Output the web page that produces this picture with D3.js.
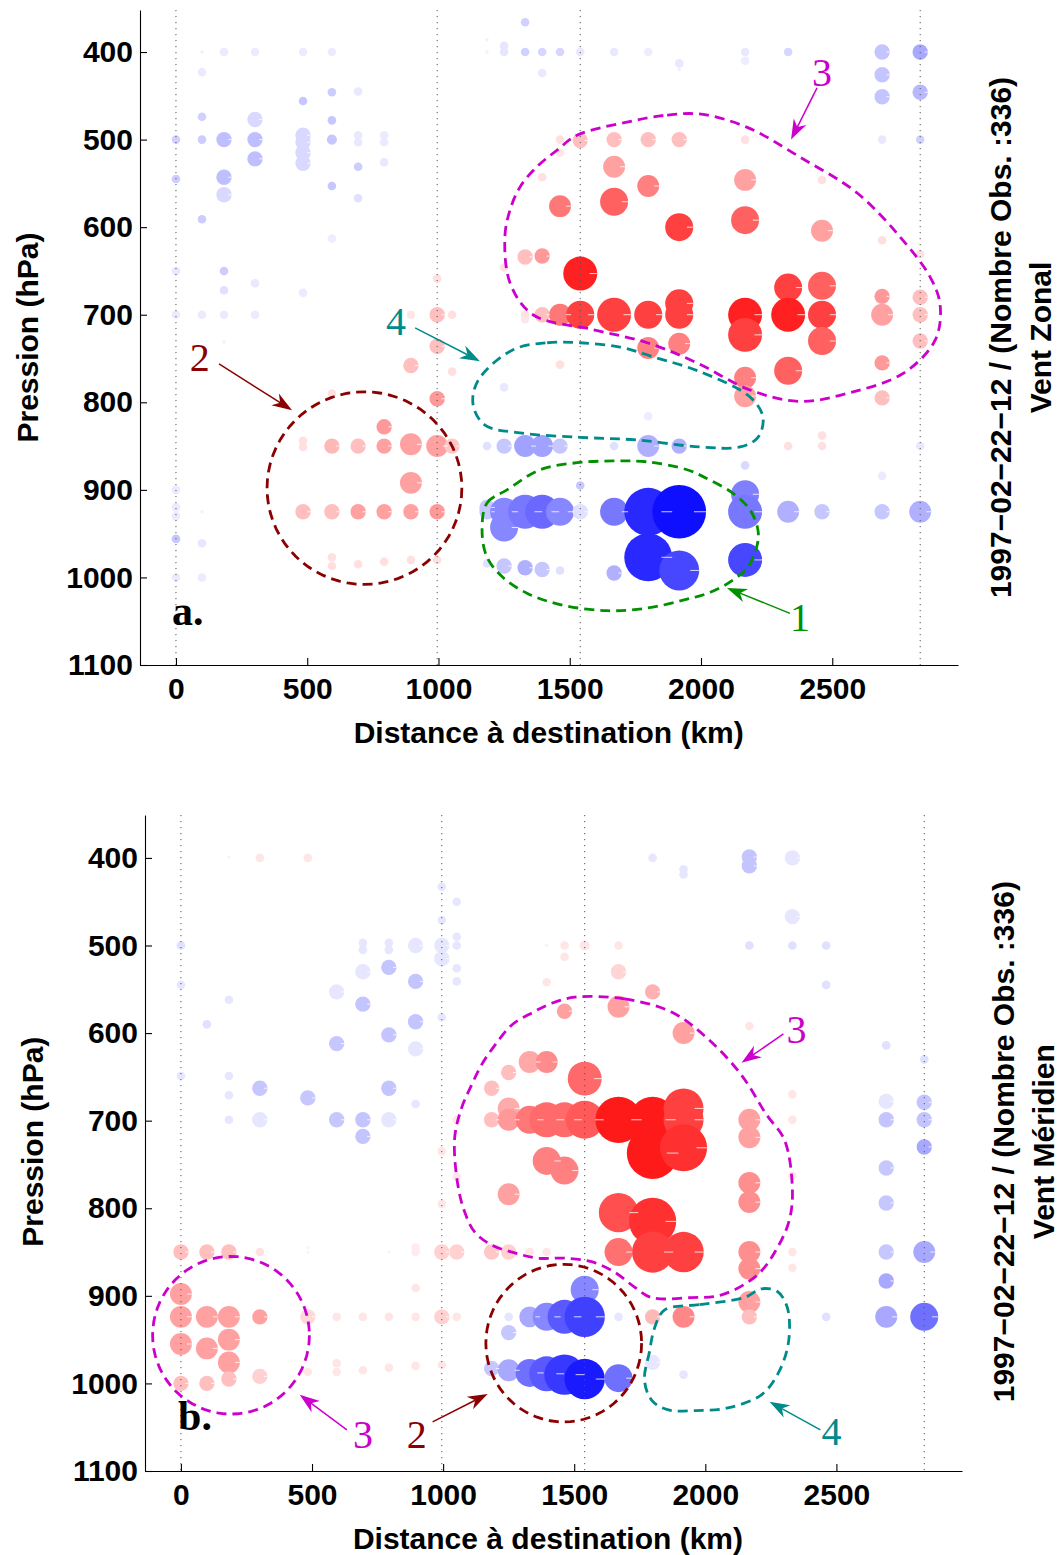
<!DOCTYPE html>
<html><head><meta charset="utf-8">
<script src="https://cdn.jsdelivr.net/npm/d3@7"></script>
<style>body{margin:0;background:#fff}</style>
</head><body>
<svg id="c" width="1059" height="1555"></svg>
<script>
// ---------- DATA ----------
const xTicks = [0, 500, 1000, 1500, 2000, 2500];
const yTicks = [400, 500, 600, 700, 800, 900, 1000, 1100];
const refLines = [0, 995, 1540, 2835];          // km, dotted verticals
const dateLabel = "1997\u221202\u221222\u221212 / (Nombre Obs. :336)";
const titleA = "Vent Zonal";
const titleB = "Vent M\u00e9ridien";
const xTitle = "Distance \u00e0 destination (km)";
const yTitle = "Pression (hPa)";

// [distance km, pressure hPa, anomaly m/s (+ red / − blue), weight]
const zonalPoints = [
 [99,400,-0.6,0.15],[183,400,-0.8,1],[301,400,-0.8,1],[484,400,-0.8,1],[594,400,-0.8,1],
 [99,423,-0.8,1],[594,446,-2.0,1],[694,445,-0.9,1],[484,456,-2.2,1],[99,474,-1.8,1],
 [301,477,-1.5,3.2],[594,478,-2.2,1],[0,500,-1.8,1],[99,500,-2.0,1],[183,500,-2.5,3.2],
 [301,500,-2.5,3.2],[484,495,-1.5,3.2],[484,503,-1.5,3.2],[484,515,-1.5,3.2],[484,527,-1.5,3.2],
 [594,500,-2.2,1.4],[694,495,-0.9,1],[694,503,-0.9,1],[793,495,-0.8,1],[793,503,-0.8,1],
 [301,522,-2.5,3.2],[694,531,-2.0,1],[793,526,-0.9,1],[0,545,-2.0,1],[183,543,-2.5,3.2],
 [183,563,-1.5,3.2],[594,553,-2.2,1],[694,567,-1.2,1],[99,591,-2.0,1],[594,613,-0.7,1],
 [0,650,-0.9,1],[183,650,-2.0,1],[183,672,-1.2,1],[301,664,-0.9,1],[484,675,-0.8,1],
 [0,700,-0.8,1],[99,700,-0.8,1],[183,700,-0.8,1],[301,700,-0.8,1],
 [895,700,1.0,1],[995,700,2.5,3.2],[1052,700,1.2,1],
 [1330,366,-1.8,1],[1185,386,-0.6,0.15],[1185,400,-0.6,0.15],[1250,393,-1.0,1],[1250,400,-1.0,1],
 [1330,400,-1.8,1],[1395,400,-1.6,1],[1463,400,-1.6,1],[1540,400,-0.9,1],[1669,400,-0.9,1],
 [1799,400,-0.7,1],[1917,413,-0.9,1],[1917,420,-0.6,0.15],[1395,424,-0.9,1],
 [2168,400,-0.9,1],[2168,410,-0.7,1],[2332,400,-1.6,1],[2690,400,-2.3,3.2],[2835,400,-3.4,3.2],
 [2690,426,-2.3,3.2],[2690,451,-2.3,3.2],[2835,446,-2.8,3.2],[2690,500,-0.9,1],[2835,500,-1.8,1],
 [1463,500,1.2,1],[1463,515,1.0,1],[1540,501,2.5,3.2],[1669,500,2.5,3.2],[1799,500,2.5,3.2],
 [1917,500,2.5,3.2],[2168,500,1.2,1],[1395,543,1.2,1],[1669,531,3.7,6.5],[1799,553,5.0,6.5],
 [1463,576,5.3,6.5],[1669,571,6.2,10.6],[1917,600,7.5,10.6],[2461,546,1.2,1],[2168,546,3.7,6.5],
 [2168,592,6.2,10.6],[2461,604,3.7,6.5],[2690,615,1.2,1],[2835,631,1.2,1],[1330,634,2.5,3.2],
 [1395,633,4.0,3.2],[1250,646,1.2,1],[1540,653,8.7,15.6],[995,659,1.2,1],
 [1330,700,1.2,1],[1330,705,1.0,1],[1395,700,2.5,3.2],[1463,700,5.3,6.5],[1540,700,7.5,10.6],
 [1669,700,7.5,15.6],[1799,700,7.5,10.6],[1917,687,7.5,10.6],[1917,700,7.5,10.6],
 [2168,700,8.7,15.6],[2332,700,8.7,15.6],[2461,700,7.5,10.6],[2690,700,3.7,6.5],[2835,700,2.5,3.2],
 [2332,669,7.5,10.6],[2461,667,6.2,10.6],[2690,679,4.0,3.2],[2835,680,2.5,3.2],
 [2168,723,7.5,15.6],[2461,730,6.2,10.6],[2835,730,2.5,3.2],[1799,738,5.0,6.5],[1917,733,5.0,6.5],
 [995,736,2.5,3.2],[1052,765,1.2,1],[1463,757,1.2,1],[2690,755,4.0,3.2],[2168,772,5.0,6.5],
 [2332,764,6.2,10.6],[2168,793,3.7,6.5],[2690,795,2.5,3.2],[2461,838,1.2,1],[2332,850,1.2,1],
 [2461,850,1.2,1],[2835,850,-0.9,1],[2168,872,-1.5,1],[2690,884,-0.8,1],
 [1250,783,-0.9,1],[1799,816,-0.7,1],[1185,850,-1.2,1],[1250,850,-2.2,3.2],[1330,850,-3.7,6.5],
 [1395,850,-3.7,6.5],[1463,850,-2.2,3.2],[1669,850,-1.2,1],[1799,850,-3.1,6.5],[1917,850,-3.1,3.2],
 [1540,895,-2.2,1],[1185,920,-2.2,3.2],[1185,925,-2.2,3.2],[1250,925,-4.7,10.6],[1250,943,-4.7,10.6],
 [1330,925,-5.3,15.6],[1395,925,-5.9,15.6],[1463,925,-4.7,10.6],[1540,925,-1.2,3.2],
 [1669,925,-5.3,10.6],[1799,925,-8.4,31],[1917,925,-9.4,39],[2168,905,-5.0,10.6],
 [2168,925,-5.3,15.6],[2332,925,-3.1,6.5],[2461,925,-2.2,3.2],[2690,925,-2.2,3.2],[2835,925,-3.1,6.5],
 [1799,977,-8.4,31],[1917,992,-7.2,21.6],[2168,980,-7.2,15.6],[1185,984,-1.2,1],[1250,987,-2.2,3.2],
 [1330,989,-3.1,3.2],[1395,991,-2.2,3.2],[1463,992,-1.2,1],[1669,995,-3.1,3.2],
 [895,758,2.5,3.2],[594,790,1.2,1],[793,828,4.0,3.2],[484,844,1.2,1],[484,851,1.2,1],
 [594,850,2.8,3.2],[694,850,2.5,3.2],[793,850,3.7,3.2],[895,848,3.7,6.5],[995,850,3.7,6.5],
 [1052,850,2.2,3.2],[895,892,3.7,6.5],[484,925,2.5,3.2],[594,925,2.5,3.2],[694,925,3.7,3.2],
 [793,925,3.7,3.2],[895,925,3.7,3.2],[995,925,4.0,3.2],[995,796,4.0,3.2],
 [594,977,1.2,1],[594,987,1.2,1],[694,985,1.2,1],[793,982,1.2,1],[895,980,1.2,1],[995,980,1.2,1],
 [0,900,-0.8,1],[0,920,-0.8,1],[0,930,-0.8,1],[99,925,-0.6,0.15],[0,956,-2.2,1],[99,961,-1.0,1],
 [0,1000,-0.8,1],[99,1000,-0.8,1],[183,731,-0.6,0.15]
];

const meridPoints = [
 [183,399,0.6,0.15],[301,400,1.0,1],[484,400,1.0,1],
 [0,500,-1.2,1],[0,545,-1.0,1],[99,590,-1.2,1],[183,562,-1.0,1],[0,649,-1.0,1],[183,649,-1.0,1],
 [183,671,-1.0,1],[301,663,-2.2,3.2],[484,674,-2.2,3.2],[183,699,-1.0,1],[301,699,-1.0,3.2],
 [594,553,-1.0,3.2],[594,612,-2.2,3.2],[594,699,-2.2,3.2],[694,497,-1.0,1],[694,505,-1.0,1],
 [694,530,-1.0,3.2],[694,567,-2.3,3.2],[694,699,-2.3,3.2],[694,718,-2.3,3.2],[793,497,-1.0,1],
 [793,505,-1.0,1],[793,525,-2.3,3.2],[793,602,-2.3,3.2],[793,663,-2.3,3.2],[793,699,-1.0,3.2],
 [895,500,-1.0,3.2],[895,541,-2.3,3.2],[895,587,-2.3,3.2],[895,618,-1.0,3.2],[895,681,-1.0,1],
 [995,433,-1.0,1],[1052,450,-1.0,1],[995,471,-1.0,1],[1052,490,-1.0,1],[995,500,-1.0,3.2],
 [1052,500,-1.0,1],[995,515,-1.0,3.2],[1052,526,-1.0,1],[1052,541,-1.0,1],[995,582,-1.0,1],
 [1799,400,-1.0,1],[1917,413,-1.0,1],[1917,419,-1.0,1],[2168,399,-2.3,3.2],[2168,409,-2.3,3.2],
 [2332,400,-1.0,3.2],[2332,467,-1.0,3.2],[2168,500,-1.2,1],[2332,500,-1.2,1],[2461,500,-1.2,1],
 [2461,545,-1.2,1],[2690,614,-1.2,1],[2835,630,-1.2,1],[2690,678,-1.0,3.2],[2835,679,-2.3,3.2],
 [2690,699,-2.3,3.2],[2835,699,-2.3,3.2],[2835,730,-3.4,3.2],[2690,754,-2.2,3.2],[2690,794,-2.2,3.2],
 [2690,850,-2.2,3.2],[2835,850,-3.4,6.5],[2690,883,-3.4,3.2],[2461,924,-1.2,1],[2690,924,-3.4,6.5],
 [2835,924,-5.6,10.6],
 [1395,500,0.6,0.15],[1463,500,1.0,1],[1540,500,1.0,1.4],[1669,500,1.0,1],[1463,513,1.0,1],
 [1669,530,1.7,3.2],[1395,542,1.0,1],[1799,553,3.1,3.2],[1463,575,3.7,3.2],[1669,570,3.7,6.5],
 [1917,600,3.7,6.5],[2168,592,1.0,1],[1330,633,3.4,6.5],[1395,633,4.5,6.5],[1250,645,2.5,3.2],
 [1185,663,2.5,3.2],[1540,652,5.9,15.6],[2332,670,1.0,1],[1052,699,1.0,1],[1185,699,2.5,3.2],
 [1250,686,3.3,6.5],[1250,699,4.0,6.5],[1330,699,5.3,10.6],[1395,699,5.8,16.5],[1463,699,5.8,16.5],
 [1540,699,6.5,19.5],[1669,699,9.0,29],[1799,699,9.0,29],[1917,686,7.5,21.6],[1917,699,7.5,21.6],
 [2168,699,3.7,6.5],[2332,699,1.0,1],[2168,719,3.7,6.5],[1799,737,9.0,36],[1917,731,8.1,30],
 [995,735,1.0,1],[1052,764,1.0,1],[995,795,1.0,1],[1395,746,5.0,10.6],[1463,757,5.0,10.6],
 [1250,784,3.7,6.5],[1669,805,6.9,21],[1799,815,8.1,30],[2168,771,4.4,6.5],[2168,793,4.4,6.5],
 [2332,763,1.0,1],[1669,850,5.6,10.6],[1799,850,7.5,23],[1917,850,7.5,22],[2168,850,4.4,6.5],
 [2168,869,4.4,6.5],[2332,850,1.0,1],[2332,868,1.0,1],[995,850,1.8,3.2],[1052,850,1.8,3.2],
 [1185,850,2.2,3.2],[1250,850,1.8,3.2],[1330,850,1.0,1],[1395,850,1.0,1],[2168,907,3.7,6.5],
 [2168,924,2.5,3.2],[1799,924,2.8,3.2],[1917,924,4.7,6.5],[995,924,1.8,3.2],[1052,924,1.0,1],
 [995,979,1.0,1],
 [1540,893,-4.7,10.6],[1250,924,-1.0,1],[1330,924,-3.4,5.8],[1395,924,-4.7,10.6],[1463,924,-6.5,15.6],
 [1540,924,-7.5,22],[1669,924,-1.0,1],[1250,942,-2.2,3.2],[1185,983,-2.2,3.2],[1250,985,-3.4,6.5],
 [1330,988,-5.6,10.6],[1395,989,-6.5,16.5],[1463,990,-7.8,22],[1540,995,-9.0,22],[1669,994,-5.6,10.6],
 [1799,976,-1.0,3.2],[1917,990,-1.0,1],
 [0,850,2.5,3.2],[99,850,2.5,3.2],[183,850,2.5,3.2],[301,850,1.2,1],[484,845,0.5,0.15],
 [484,850,0.5,0.15],[793,850,0.5,0.15],[895,845,0.8,1],[895,850,0.8,1],[0,898,3.7,6.5],
 [895,891,1.0,1],[0,924,3.7,6.5],[99,924,3.7,6.5],[183,924,3.7,6.5],[301,924,3.7,3.2],
 [484,924,1.5,3.2],[594,924,1.0,1],[694,924,1.0,1],[793,924,1.0,1],[895,924,1.0,1],
 [0,955,3.7,6.5],[99,960,3.7,6.5],[183,950,3.7,6.5],[183,976,3.7,6.5],[0,1000,2.5,3.2],
 [99,1000,2.5,3.2],[183,995,2.5,3.2],[301,992,1.8,3.2],[484,987,1.0,1],[594,977,1.0,1],
 [594,987,1.0,1],[694,985,1.0,1],[793,982,1.0,1],[895,980,1.0,1]
];

// Annotation outlines (km, hPa)
const regionA1 = [[1166,946],[1185,915],[1261,900],[1387,877],[1528,869],[1665,867],[1795,868],[1947,877],[2035,889],[2122,904],[2187,923],[2217,946],[2214,963],[2179,988],[2122,1003],[2035,1017],[1932,1026],[1795,1035],[1642,1038],[1463,1031],[1337,1018],[1246,1000],[1185,977]];
const regionA3 = [[1718,480],[1871,472],[2000,471],[2176,486],[2377,520],[2595,561],[2758,611],[2873,657],[2911,689],[2892,729],[2770,767],[2568,789],[2377,799],[2187,786],[1985,755],[1795,732],[1589,717],[1360,700],[1273,664],[1253,611],[1273,580],[1311,554],[1375,531],[1452,512],[1528,495]];
const regionA4 = [[1284,740],[1414,732],[1539,732],[1692,737],[1817,748],[1996,765],[2187,794],[2236,817],[2217,840],[2149,851],[1996,851],[1756,843],[1539,840],[1311,835],[1177,826],[1132,803],[1151,775]];
const circleA2 = [718, 898, 371, 110];        // centre km, centre hPa, radius km, radius hPa
const regionB3 = [[1502,559],[1692,561],[1871,576],[2008,606],[2138,648],[2233,693],[2302,722],[2332,777],[2321,813],[2275,845],[2199,876],[2062,899],[1947,902],[1795,902],[1730,890],[1654,873],[1566,861],[1463,857],[1361,857],[1273,851],[1185,842],[1120,827],[1082,804],[1056,773],[1044,720],[1071,685],[1109,659],[1147,636],[1197,614],[1261,591],[1338,577],[1414,566]];
const regionB4 = [[1845,916],[1978,910],[2149,902],[2214,892],[2275,895],[2309,910],[2321,930],[2313,960],[2275,990],[2214,1013],[2085,1028],[1959,1031],[1856,1030],[1795,1019],[1768,996],[1787,964],[1806,937]];
const circleB3 = [191, 945, 299, 90];
const circleB2 = [1460, 954, 297, 90];

// labels / arrows: [label, label km, label hPa, from km, from hPa, tip km, tip hPa, colour]
const arrowsA = [
 ["3", 2461, 424, 2442, 441, 2343, 500, "#cc00cc"],
 ["4", 838, 708, 911, 715, 1158, 753, "#008b8b"],
 ["2", 91, 749, 164, 756, 442, 809, "#8b0000"],
 ["1", 2377, 1046, 2339, 1041, 2099, 1012, "#009000"]
];
const arrowsB = [
 ["3", 2348, 596, 2298, 601, 2138, 634, "#cc00cc"],
 ["3", 694, 1059, 633, 1053, 453, 1013, "#cc00cc"],
 ["2", 899, 1059, 960, 1044, 1170, 1012, "#8b0000"],
 ["4", 2481, 1055, 2439, 1053, 2245, 1021, "#008b8b"]
];

// ---------- DRAW ----------
const svg = d3.select("#c");
const FONT = "'Liberation Sans', Arial, Helvetica, sans-serif";
const SERIF = "'Liberation Serif', 'Times New Roman', serif";
const xDomain = [-137, 2979];
const vMax = 10;
const rScale = d3.scaleSqrt().domain([0, 40]).range([0, 27.2]);
const redI = d3.interpolateRgb("#ffffff", "#ff0000");
const blueI = d3.interpolateRgb("#ffffff", "#0000ff");
const colour = v => { const f = Math.min(1, Math.abs(v) / vMax); return v >= 0 ? redI(f) : blueI(f); };

function ellipsePts(c) {
  return d3.range(0, 72).map(i => {
    const t = i / 72 * 2 * Math.PI;
    return [c[0] + c[2] * Math.cos(t), c[1] + c[3] * Math.sin(t)];
  });
}

function drawPanel(cfg) {
  const x = d3.scaleLinear().domain(xDomain).range([cfg.left, cfg.left + cfg.width]);
  const y = d3.scaleLinear().domain(cfg.yDomain).range([cfg.top, cfg.top + cfg.height]);
  const g = svg.append("g");

  const pts = cfg.data.slice().sort((a, b) => a[0] - b[0] || a[1] - b[1]);
  g.selectAll("circle.pt").data(pts).join("circle")
    .attr("cx", d => x(d[0])).attr("cy", d => y(d[1]))
    .attr("r", d => rScale(d[3])).attr("fill", d => colour(d[2]));
  g.selectAll("line.gl").data(pts.filter(d => rScale(d[3]) >= 7)).join("line")
    .attr("x1", d => x(d[0]) + 0.55 * rScale(d[3])).attr("x2", d => x(d[0]) + rScale(d[3]))
    .attr("y1", d => y(d[1])).attr("y2", d => y(d[1]))
    .attr("stroke", "#fff").attr("stroke-width", 1).attr("opacity", 0.8);

  g.selectAll("line.ref").data(refLines).join("line")
    .attr("x1", d => x(d)).attr("x2", d => x(d))
    .attr("y1", cfg.top).attr("y2", cfg.top + cfg.height)
    .attr("stroke", "#555").attr("stroke-width", 1).attr("stroke-dasharray", "1.2,4.8");

  // axes
  const fmt = d3.format("d");
  const ax = g.append("g").attr("transform", `translate(0,${cfg.top + cfg.height})`)
    .call(d3.axisBottom(x).tickValues(xTicks).tickFormat(fmt).tickSizeInner(-7).tickSizeOuter(0).tickPadding(13));
  const ay = g.append("g").attr("transform", `translate(${cfg.left},0)`)
    .call(d3.axisLeft(y).tickValues(yTicks).tickFormat(fmt).tickSizeInner(-7).tickSizeOuter(0).tickPadding(7));
  [ax, ay].forEach(a => {
    a.selectAll("text").attr("font-family", FONT).attr("font-size", 30).attr("font-weight", "bold").attr("fill", "#000");
    a.selectAll("line,path").attr("stroke", "#000").attr("stroke-width", 1.1);
  });

  // titles
  g.append("text").attr("x", x(cfg.xTitleKm)).attr("y", cfg.top + cfg.height + 78)
    .attr("text-anchor", "middle").attr("font-family", FONT).attr("font-size", 30).attr("font-weight", "bold").text(xTitle);
  g.append("text").attr("transform", `translate(${cfg.yTitleX},${y(cfg.yTitleP)}) rotate(-90)`)
    .attr("text-anchor", "middle").attr("font-family", FONT).attr("font-size", 30).attr("font-weight", "bold").text(yTitle);
  g.append("text").attr("transform", `translate(${cfg.rightX1},${y(cfg.yTitleP)}) rotate(-90)`)
    .attr("text-anchor", "middle").attr("font-family", FONT).attr("font-size", 30).attr("font-weight", "bold").text(dateLabel);
  g.append("text").attr("transform", `translate(${cfg.rightX2},${y(cfg.yTitleP)}) rotate(-90)`)
    .attr("text-anchor", "middle").attr("font-family", FONT).attr("font-size", 30).attr("font-weight", "bold").text(cfg.title);

  // panel letter
  g.append("text").attr("x", x(cfg.letter[1])).attr("y", y(cfg.letter[2]))
    .attr("font-family", SERIF).attr("font-size", 42).attr("font-weight", "bold").text(cfg.letter[0]);

  // annotation outlines
  const line = d3.line().x(d => x(d[0])).y(d => y(d[1]));
  cfg.shapes.forEach(s => {
    const gen = s.smooth ? line.curve(d3.curveCatmullRomClosed.alpha(0.5)) : line.curve(d3.curveLinearClosed);
    g.append("path").attr("d", gen(s.pts)).attr("fill", "none").attr("stroke", s.color)
      .attr("stroke-width", 2.8).attr("stroke-dasharray", "10,6");
  });

  // arrows & labels
  cfg.arrows.forEach(a => {
    const [lab, lk, lp, fk, fp, tk, tp, c] = a;
    const x1 = x(fk), y1 = y(fp), x2 = x(tk), y2 = y(tp);
    const dx = x2 - x1, dy = y2 - y1, L = Math.hypot(dx, dy), ux = dx / L, uy = dy / L, nx = -uy, ny = ux;
    const HL = 20, HW = 7;
    g.append("line").attr("x1", x1).attr("y1", y1).attr("x2", x2 - ux * HL * 0.7).attr("y2", y2 - uy * HL * 0.7)
      .attr("stroke", c).attr("stroke-width", 1.5);
    const head = [[x2, y2], [x2 - ux * HL + nx * HW, y2 - uy * HL + ny * HW], [x2 - ux * HL * 0.7, y2 - uy * HL * 0.7], [x2 - ux * HL - nx * HW, y2 - uy * HL - ny * HW]];
    g.append("path").attr("d", "M" + head.map(p => p.join(",")).join("L") + "Z").attr("fill", c);
    g.append("text").attr("x", x(lk)).attr("y", y(lp)).attr("dy", "0.33em").attr("text-anchor", "middle")
      .attr("font-family", SERIF).attr("font-size", 40).attr("fill", c).text(lab);
  });
}

drawPanel({
  left: 140, top: 10, width: 818, height: 655, yDomain: [352, 1100], data: zonalPoints,
  title: titleA, xTitleKm: 1420, yTitleX: 38, yTitleP: 726, rightX1: 1011, rightX2: 1051,
  letter: ["a.", -15, 1054],
  shapes: [
    { pts: regionA1, color: "#009000", smooth: true },
    { pts: regionA3, color: "#cc00cc", smooth: true },
    { pts: regionA4, color: "#008b8b", smooth: true },
    { pts: ellipsePts(circleA2), color: "#8b0000", smooth: false }
  ],
  arrows: arrowsA
});
drawPanel({
  left: 145, top: 815, width: 817, height: 656, yDomain: [351, 1100], data: meridPoints,
  title: titleB, xTitleKm: 1400, yTitleX: 43, yTitleP: 724, rightX1: 1014, rightX2: 1054,
  letter: ["b.", -11, 1053],
  shapes: [
    { pts: regionB3, color: "#cc00cc", smooth: true },
    { pts: regionB4, color: "#008b8b", smooth: true },
    { pts: ellipsePts(circleB3), color: "#cc00cc", smooth: false },
    { pts: ellipsePts(circleB2), color: "#8b0000", smooth: false }
  ],
  arrows: arrowsB
});
</script>
</body></html>
